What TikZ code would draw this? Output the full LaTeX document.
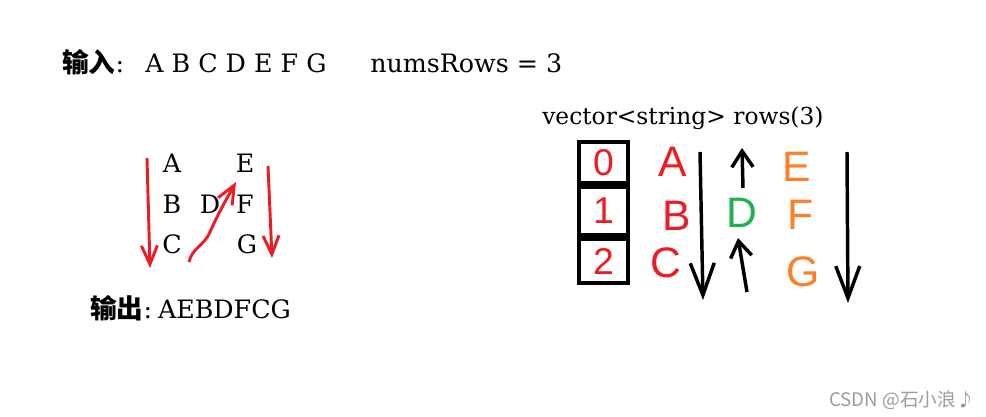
\documentclass[tikz,border=0pt]{standalone}
\usepackage{fontspec}
\setmainfont{DejaVu Serif}
\newfontfamily\cjkfont{Noto Sans CJK SC}
\newfontfamily\handfont{Liberation Sans}
\usepackage{xcolor}
\usetikzlibrary{arrows.meta,positioning}
\definecolor{paintred}{HTML}{ED1C24}
\definecolor{paintorange}{HTML}{FF7F27}
\definecolor{paintgreen}{HTML}{22B14C}
\definecolor{markgray}{HTML}{9C9C9C}
\tikzset{
  plaintext/.style={font=\fontsize{19}{23}\selectfont, inner sep=0pt, anchor=base west},
  cjklabel/.style={plaintext, font=\fontsize{20}{24}\selectfont\cjkfont\bfseries},
  gridletter/.style={font=\fontsize{19}{23}\selectfont, inner sep=0pt, anchor=base},
  handred/.style={font=\fontsize{32}{36}\selectfont\handfont, text=paintred, inner sep=0pt},
  handorange/.style={handred, text=paintorange},
  handgreen/.style={handred, text=paintgreen},
  rowcell/.style={draw=black, line width=3pt, minimum width=36.75pt, inner sep=0pt,
    font=\fontsize{28}{32}\selectfont\handfont, text=paintred},
  redarrow/.style={-{Straight Barb[length=14pt,width=12pt]}, draw=paintred, line width=2.2pt},
  blackarrow/.style={-{Straight Barb[length=24pt,width=18pt]}, draw=black, line width=2.6pt},
  smallarrow/.style={-{Straight Barb[length=12pt,width=16pt]}, draw=black, line width=2.6pt},
}

\begin{document}
\begin{tikzpicture}[x=0.75pt, y=-0.75pt]
  \fill[white] (0,0) rectangle (986,417);
  \useasboundingbox (0,0) rectangle (986,417);

  % input line
  \node (inlabel) [cjklabel] at (62,73) {输入\rmfamily\mdseries\fontsize{19}{23}\selectfont:};
  \node (inseq)   [plaintext] at (145,73) {A B C D E F G};
  \node (numrows) [plaintext] at (370,73) {numsRows = 3};
  \node (vecdecl) [plaintext, font=\fontsize{17.5}{21}\selectfont] at (542,125) {vector<string> rows(3)};

  % zigzag
  \node (zA) [gridletter] at (172,173) {A};
  \node (zE) [gridletter] at (245,173) {E};
  \node (zB) [gridletter] at (172,214) {B};
  \node (zD) [gridletter] at (210,214) {D};
  \node (zF) [gridletter] at (245,214) {F};
  \node (zC) [gridletter] at (172,254) {C};
  \node (zG) [gridletter] at (247,254) {G};
  \coordinate (downL1) at (147,158);
  \coordinate (downL2) at (150,268);
  \coordinate (upM1)   at (189,262);
  \coordinate (upM2)   at (236,182);
  \coordinate (downR1) at (268,166);
  \coordinate (downR2) at (272,258);
  \draw[redarrow] (downL1) -- (downL2);
  \draw[redarrow] (upM1) .. controls (192,248) and (204,246) .. (210,232)
                        .. controls (218,214) and (226,200) .. (upM2);
  \draw[redarrow] (downR1) -- (downR2);

  % output line
  \node (outlabel) [cjklabel] at (90,318) {输出\rmfamily\mdseries\fontsize{19}{23}\selectfont:};
  \node (outseq)   [plaintext, right=4pt of outlabel.base east, anchor=base west] {AEBDFCG};

  % rows vector
  \node (row0) [rowcell, minimum height=30.75pt] at (603.5,162.5) {0};
  \node (row1) [rowcell, minimum height=36pt, below=0pt of row0] {1};
  \node (row2) [rowcell, minimum height=33pt, below=0pt of row1] {2};

  \node (rA) [handred] at (673,162) {A};
  \node (rB) [handred] at (677,216) {B};
  \node (rC) [handred] at (666,263) {C};
  \node (rD) [handgreen] at (742,213) {D};
  \node (rE) [handorange] at (797,167) {E};
  \node (rF) [handorange] at (801,215) {F};
  \node (rG) [handorange] at (803,272) {G};

  \coordinate (colA1) at (700,152);
  \coordinate (colA2) at (703,300);
  \coordinate (upT1)  at (743,188);
  \coordinate (upT2)  at (742,148);
  \coordinate (upB1)  at (747,292);
  \coordinate (upB2)  at (738,238);
  \coordinate (colE1) at (847,152);
  \coordinate (colE2) at (848,303);
  \draw[blackarrow] (colA1) -- (colA2);
  \draw[smallarrow] (upT1) -- (upT2);
  \draw[smallarrow] (upB1) -- (upB2);
  \draw[blackarrow] (colE1) -- (colE2);

  \node (watermark) [anchor=base east, inner sep=0pt, text=markgray,
    font=\fontsize{14}{16}\selectfont\cjkfont] at (975,406) {CSDN @石小浪♪};
\end{tikzpicture}
\end{document}
